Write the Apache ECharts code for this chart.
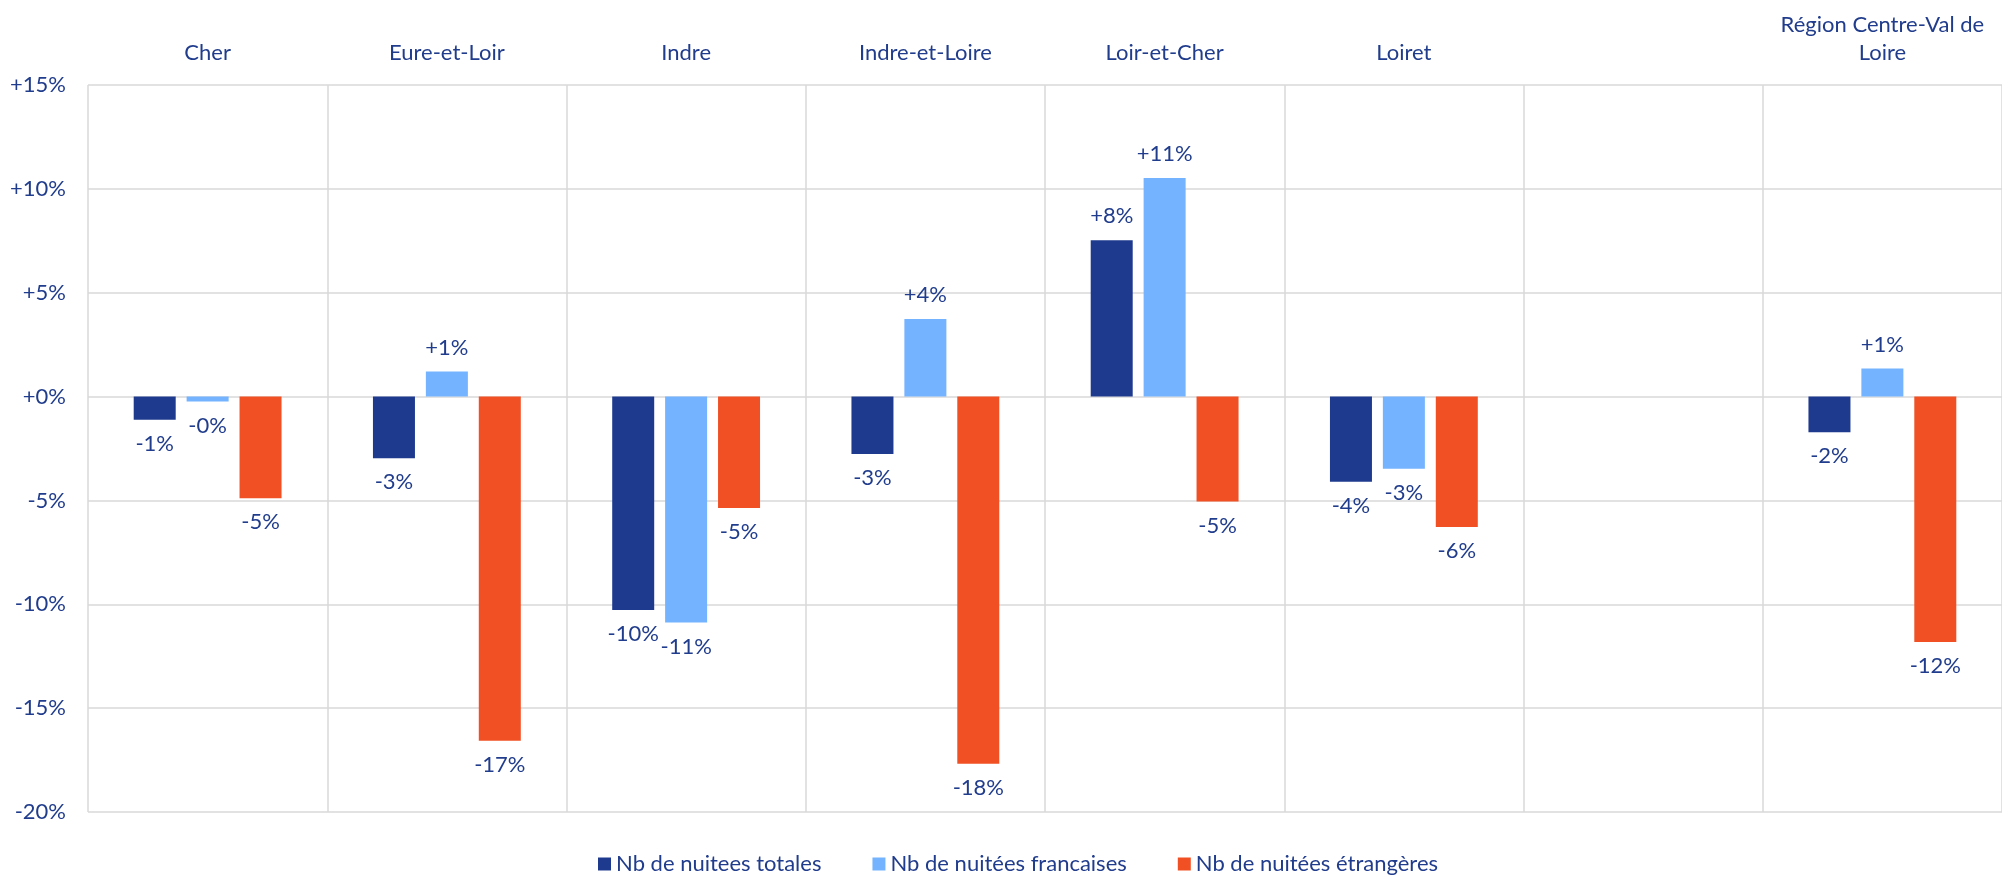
<!DOCTYPE html>
<html>
<head>
<meta charset="utf-8">
<script src="https://cdn.jsdelivr.net/npm/echarts@6/dist/echarts.min.js"></script>
<style>
html,body{margin:0;padding:0;background:#fff;}
#chart{width:2002px;height:876px;}
</style>
</head>
<body>
<div id="chart"></div>
<script>
const categories = ['Cher', 'Eure-et-Loir', 'Indre', 'Indre-et-Loire', 'Loir-et-Cher', 'Loiret', '', 'Région Centre-Val de Loire'];
const seriesNames = ['Nb de nuitees totales', 'Nb de nuitées francaises', 'Nb de nuitées étrangères'];
const totales = [-1.11, -2.97, -10.27, -2.76, 7.52, -4.10, null, -1.72];
const francaises = [-0.24, 1.21, -10.88, 3.73, 10.52, -3.47, null, 1.35];
const etrangeres = [-4.90, -16.57, -5.37, -17.68, -5.05, -6.28, null, -11.81];
const yTicks = { min: -20, max: 15, interval: 5 };

const TEXT = '#203C8C';
const FONT = 'Lato';
const colors = ['#1E3A8E', '#74B3FF', '#F05023'];

function fmtPct(v) {
  if (v < 0 || Object.is(v, -0)) return '-' + Math.round(-v) + '%';
  return '+' + Math.round(v) + '%';
}

function makeData(arr) {
  return arr.map(v => {
    if (v === null) return '-';
    return { value: v, label: { position: v < 0 ? 'bottom' : 'top' } };
  });
}

const chart = echarts.init(document.getElementById('chart'), null, { renderer: 'canvas' });
const allData = [totales, francaises, etrangeres];

chart.setOption({
  animation: false,
  backgroundColor: '#ffffff',
  textStyle: { fontFamily: FONT },
  grid: { left: 88, right: -3, top: 85, bottom: 64, containLabel: false },
  legend: {
    data: seriesNames,
    left: 593,
    top: 846,
    itemWidth: 13,
    itemHeight: 13,
    itemGap: 51,
    icon: 'rect',
    textStyle: { color: TEXT, fontSize: 22, fontFamily: FONT, lineHeight: 26 }
  },
  xAxis: {
    type: 'category',
    position: 'top',
    data: categories,
    axisLine: { show: false, onZero: false },
    axisTick: { show: false },
    splitLine: { show: true, interval: 0, lineStyle: { color: '#D9D9D9', width: 1.5 } },
    axisLabel: {
      interval: 0,
      margin: 18,
      color: TEXT,
      fontSize: 22,
      fontFamily: FONT,
      lineHeight: 28,
      formatter: function (v) { return v.replace('Val de Loire', 'Val de\nLoire'); }
    }
  },
  yAxis: {
    type: 'value',
    min: yTicks.min,
    max: yTicks.max,
    interval: yTicks.interval,
    axisLine: { show: false },
    axisTick: { show: false },
    splitLine: { show: true, lineStyle: { color: '#D9D9D9', width: 1.5 } },
    axisLabel: {
      margin: 22,
      color: TEXT,
      fontSize: 22,
      fontFamily: FONT,
      formatter: function (v) { return (v > 0 || v === 0 ? '+' : '') + v + '%'; }
    }
  },
  series: seriesNames.map((name, i) => ({
    name: name,
    type: 'bar',
    barWidth: 42,
    barGap: '26%',
    itemStyle: { color: colors[i] },
    data: makeData(allData[i]),
    label: {
      show: true,
      distance: 13,
      color: TEXT,
      fontSize: 22,
      fontFamily: FONT,
      formatter: function (p) { return fmtPct(p.value); }
    }
  }))
});
</script>
</body>
</html>
